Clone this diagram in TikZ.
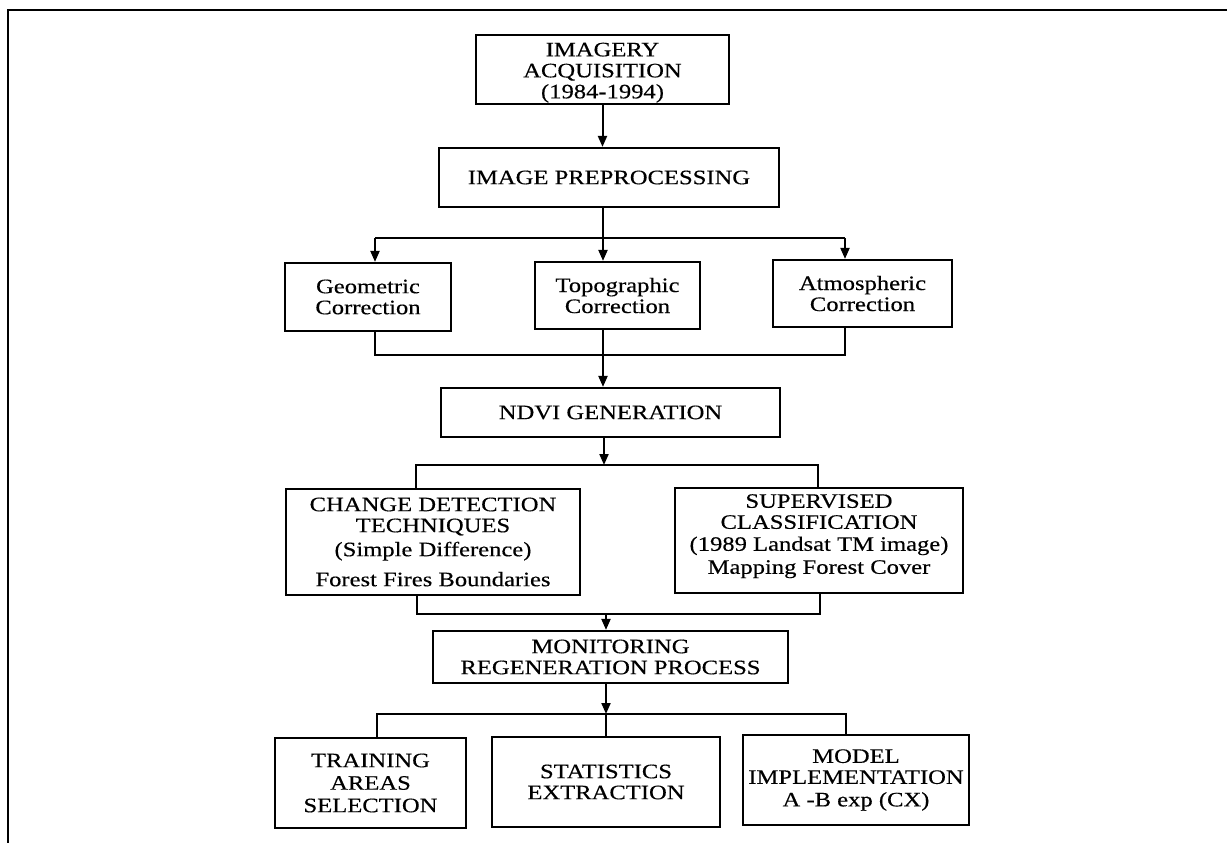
\documentclass[tikz,border=0pt]{standalone}
\usepackage{fontspec}
\setmainfont{Liberation Serif}[FakeStretch=1.2,FakeBold=0.35]
\usetikzlibrary{arrows.meta}
\begin{document}
\begin{tikzpicture}[x=1pt,y=-1pt,
  box/.style={draw, line width=2.2pt, inner sep=0pt, align=center,
    font=\fontsize{20.5}{21}\selectfont},
  ln/.style={line width=2pt},
  arr/.style={line width=2pt, -{Triangle[length=11pt,width=9pt]}}]
\useasboundingbox (0,0) rectangle (1227,843);
\draw[line width=2pt] (8,843) -- (8,10) -- (1227,10);

\node[box, minimum width=253pt, minimum height=69pt] (ia) at (602.5,69.5)
  {\rule{0pt}{20pt}IMAGERY\\ ACQUISITION\\ (1984-1994)};
\node[box, minimum width=340pt, minimum height=59pt] (pre) at (609,177.5)
  {IMAGE PREPROCESSING};
\node[box, minimum width=166pt, minimum height=68pt] (geo) at (368,297)
  {Geometric\\ Correction};
\node[box, minimum width=165pt, minimum height=67pt] (topo) at (617.5,295.5)
  {Topographic\\ Correction};
\node[box, minimum width=179pt, minimum height=67pt] (atm) at (862.5,293.5)
  {Atmospheric\\ Correction};
\node[box, minimum width=339pt, minimum height=49pt] (ndvi) at (610.5,412.5)
  {NDVI GENERATION};
\node[box, minimum width=294pt, minimum height=106pt] (cd) at (433,542)
  {CHANGE DETECTION\\ TECHNIQUES\\[3pt] (Simple Difference)\\[9pt] Forest Fires Boundaries};
\node[box, minimum width=288pt, minimum height=105pt] (sup) at (819,540.5)
  {SUPERVISED\\ CLASSIFICATION\\[1pt] (1989 Landsat TM image)\\[2pt] Mapping Forest Cover\\[-8pt]\mbox{}};
\node[box, minimum width=355pt, minimum height=52pt] (mon) at (610.5,657)
  {MONITORING\\ REGENERATION PROCESS};
\node[box, minimum width=191pt, minimum height=90pt] (trn) at (370.5,783)
  {TRAINING\\[1.5pt] AREAS\\[1.5pt] SELECTION};
\node[box, minimum width=228pt, minimum height=90pt] (st) at (606,782)
  {STATISTICS\\ EXTRACTION};
\node[box, minimum width=226pt, minimum height=90pt] (mdl) at (856,780)
  {MODEL\\ IMPLEMENTATION\\[1.5pt] A -B exp (CX)};

% imagery -> preprocessing
\draw[arr] (ia.south) -- (ia.south |- pre.north);

% preprocessing -> three corrections
\coordinate (bl) at (375,238);
\coordinate (bm) at (603,238);
\coordinate (br) at (845,238);
\draw[ln] (bm |- pre.south) -- (bm);
\draw[ln] (bl) -- (br);
\draw[arr] (bl) -- (bl |- geo.north);
\draw[arr] (bm) -- (bm |- topo.north);
\draw[arr] (br) -- (br |- atm.north);

% corrections -> NDVI
\coordinate (ml) at (375,355);
\coordinate (mm) at (603,355);
\coordinate (mr) at (845,355);
\draw[ln] (ml |- geo.south) -- (ml) -- (mr) -- (mr |- atm.south);
\draw[arr] (mm |- topo.south) -- (mm |- ndvi.north);

% NDVI -> change detection / supervised
\coordinate (sl) at (416,465);
\coordinate (sm) at (604,465);
\coordinate (sr) at (818,465);
\draw[arr] (sm |- ndvi.south) -- (sm);
\draw[ln] (sl |- cd.north) -- (sl) -- (sr) -- (sr |- sup.north);

% -> monitoring
\coordinate (nl) at (417,614);
\coordinate (nm) at (606,614);
\coordinate (nr) at (820,614);
\draw[ln] (nl |- cd.south) -- (nl) -- (nr) -- (nr |- sup.south);
\draw[arr] (nm) -- (nm |- mon.north);

% monitoring -> bottom row
\coordinate (q1) at (377,714);
\coordinate (q2) at (606,714);
\coordinate (q3) at (846,714);
\draw[arr] (q2 |- mon.south) -- (q2);
\draw[ln] (q1 |- trn.north) -- (q1) -- (q3) -- (q3 |- mdl.north);
\draw[ln] (q2) -- (q2 |- st.north);
\end{tikzpicture}
\end{document}
